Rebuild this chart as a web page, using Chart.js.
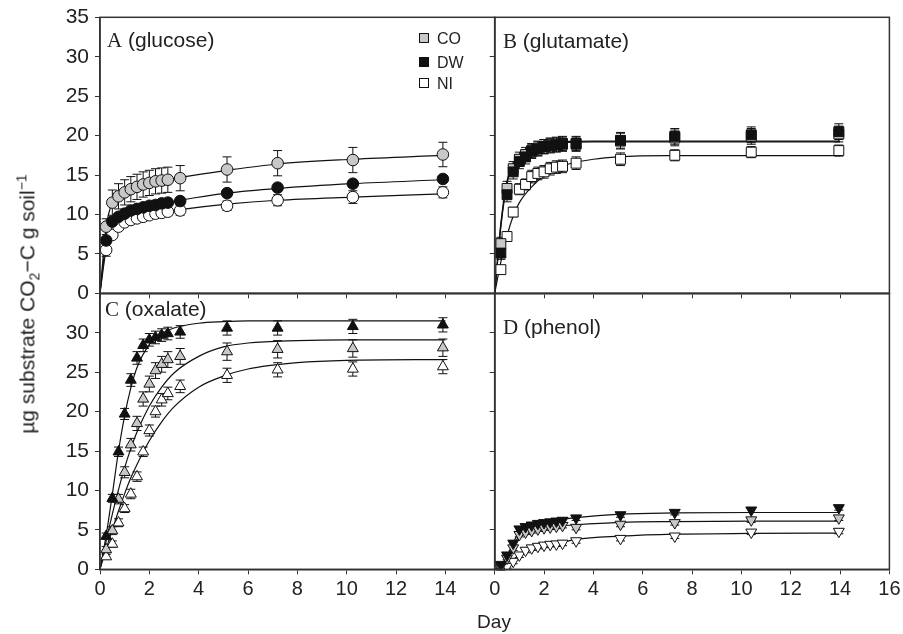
<!DOCTYPE html>
<html>
<head>
<meta charset="utf-8">
<script src="https://cdn.jsdelivr.net/npm/chart.js@4.4.1/dist/chart.umd.min.js"></script>
<style>
  body { margin: 0; background: #fff; }
  #wrap { position: relative; width: 903px; height: 634px; font-family: 'Liberation Sans', Arial, sans-serif; color: #222; }
  #wrap canvas { position: absolute; left: 0; top: 0; }
  .plabel { position: absolute; font-size: 21px; line-height: 21px; white-space: nowrap; }
  .plabel .l { font-family: 'Liberation Serif', 'Times New Roman', serif; }
  .leg { position: absolute; left: 419px; font-size: 16px; line-height: 16px; white-space: nowrap; }
  .leg i { display: inline-block; width: 8px; height: 8px; border: 1px solid #111; margin-right: 8px; vertical-align: 1px; }
  #ytitle { position: absolute; left: 28px; top: 304px; font-size: 21px; white-space: nowrap;
            transform: translate(-50%, -50%) rotate(-90deg); }
  #ytitle sub, #ytitle sup { font-size: 14px; }
  #xtitle { position: absolute; left: 494px; top: 611px; font-size: 19px; transform: translateX(-50%); }
</style>
</head>
<body>
<div id="wrap">
  <canvas id="pA" width="903" height="634"></canvas>
  <canvas id="pB" width="903" height="634"></canvas>
  <canvas id="pC" width="903" height="634"></canvas>
  <canvas id="pD" width="903" height="634"></canvas>
  <div class="plabel" style="left:107px; top:29px"><span class="l">A</span> (glucose)</div>
  <div class="plabel" style="left:503px; top:30px"><span class="l">B</span> (glutamate)</div>
  <div class="plabel" style="left:105px; top:298px"><span class="l">C</span> (oxalate)</div>
  <div class="plabel" style="left:503px; top:316px"><span class="l">D</span> (phenol)</div>
  <div class="leg" style="top:31px"><i style="background:#c8c8c8"></i>CO</div>
  <div class="leg" style="top:55px"><i style="background:#111"></i>DW</div>
  <div class="leg" style="top:76px"><i style="background:#fff"></i>NI</div>
  <div id="ytitle">µg substrate CO<sub>2</sub>−C g soil<sup>−1</sup></div>
  <div id="xtitle">Day</div>
</div>
<script>
// sampling days
const daysLeft = [0.25, 0.5, 0.75, 1, 1.25, 1.5, 1.75, 2, 2.25, 2.5, 2.75, 3.25, 5.15, 7.2, 10.25, 13.9];
const daysRight = [0.25, 0.5, 0.75, 1, 1.25, 1.5, 1.75, 2, 2.25, 2.5, 2.75, 3.3, 5.1, 7.3, 10.4, 13.95];

// A glucose
const glucoseCO = [8.45, 11.5, 12.3, 12.8, 13.2, 13.5, 13.8, 14.0, 14.2, 14.3, 14.4, 14.6, 15.7, 16.5, 16.9, 17.6];
const glucoseDW = [6.7, 9.1, 9.7, 10.1, 10.5, 10.7, 10.9, 11.1, 11.2, 11.4, 11.5, 11.7, 12.7, 13.4, 13.9, 14.5];
const glucoseNI = [5.5, 7.4, 8.45, 9.0, 9.3, 9.5, 9.7, 9.9, 10.1, 10.2, 10.35, 10.5, 11.1, 11.8, 12.2, 12.8];
const glucoseCOErr = [1.0, 1.6, 1.6, 1.6, 1.6, 1.6, 1.6, 1.6, 1.6, 1.6, 1.6, 1.6, 1.6, 1.6, 1.6, 1.55];
const glucoseDWErr = [0.4, 0.3, 0.3, 0.3, 0.3, 0.3, 0.3, 0.3, 0.3, 0.3, 0.3, 0.4, 0.4, 0.4, 0.4, 0.4];
const glucoseNIErr = [0.8, 0.4, 0.4, 0.4, 0.4, 0.4, 0.4, 0.4, 0.4, 0.4, 0.4, 0.6, 0.6, 0.7, 0.8, 0.7];
const fitDaysA = [0, 0.25, 0.5, 0.75, 1, 1.5, 2, 2.75, 3.25, 5.15, 7.2, 10.25, 13.9];
const glucoseFitCO = [0, 8.4, 11.5, 12.3, 12.8, 13.5, 14.0, 14.4, 14.7, 15.6, 16.4, 17.0, 17.5];
const glucoseFitDW = [0, 6.7, 9.1, 9.7, 10.1, 10.7, 11.1, 11.5, 11.8, 12.7, 13.3, 13.9, 14.4];
const glucoseFitNI = [0, 5.5, 7.4, 8.4, 9.0, 9.5, 9.9, 10.35, 10.6, 11.3, 11.8, 12.2, 12.6];

// B glutamate
const glutamateCO = [6.3, 13.3, 15.8, 17.0, 17.6, 18.1, 18.4, 18.6, 18.8, 18.9, 19.0, 19.0, 19.3, 19.7, 19.9, 20.2];
const glutamateDW = [5.1, 12.5, 15.4, 16.7, 17.3, 18.0, 18.3, 18.6, 18.7, 18.8, 18.9, 18.9, 19.4, 19.9, 20.1, 20.5];
const glutamateNI = [3.0, 7.2, 10.3, 13.2, 13.8, 14.8, 15.2, 15.4, 15.8, 16.0, 16.1, 16.5, 17.0, 17.5, 17.9, 18.1];
const glutamateCOErr = [0.8, 0.9, 0.9, 0.9, 0.9, 0.9, 0.9, 0.9, 0.9, 0.9, 0.9, 0.9, 1.0, 1.0, 1.0, 1.0];
const glutamateDWErr = [0.8, 0.9, 0.9, 0.9, 0.9, 0.9, 0.9, 0.9, 0.9, 0.9, 0.9, 0.9, 1.0, 1.0, 1.0, 1.0];
const glutamateNIErr = [0.5, 0.6, 0.6, 0.7, 0.7, 0.8, 0.8, 0.8, 0.8, 0.8, 0.8, 0.8, 0.8, 0.7, 0.7, 0.7];
const fitDaysB = [0, 0.25, 0.5, 0.75, 1, 1.5, 2, 2.5, 3, 4, 5, 7, 10, 14];
const glutamateFitCO = [0, 8.8, 14.2, 16.5, 17.6, 18.6, 19.0, 19.15, 19.25, 19.3, 19.3, 19.3, 19.3, 19.3];
const glutamateFitDW = [0, 8.5, 14.0, 16.3, 17.4, 18.5, 18.9, 19.05, 19.15, 19.2, 19.2, 19.2, 19.2, 19.2];
const glutamateFitNI = [0, 4.0, 7.3, 9.8, 11.5, 13.5, 14.9, 15.8, 16.4, 17.0, 17.3, 17.45, 17.45, 17.45];

// C oxalate
const oxalateCO = [2.5, 4.9, 8.9, 12.3, 15.8, 18.5, 21.6, 23.5, 25.2, 26.0, 26.6, 27.0, 27.6, 27.9, 28.0, 28.1];
const oxalateDW = [4.2, 9.0, 14.9, 19.7, 24.0, 26.8, 28.4, 29.1, 29.4, 29.7, 29.9, 30.1, 30.6, 30.6, 30.8, 31.0];
const oxalateNI = [1.6, 3.2, 5.9, 7.7, 9.55, 11.75, 14.9, 17.6, 20.0, 21.5, 22.3, 23.2, 24.6, 25.3, 25.4, 25.7];
const oxalateCOErr = [0.4, 0.5, 0.6, 0.7, 0.8, 0.9, 0.9, 1.0, 1.0, 1.0, 1.0, 1.0, 1.1, 1.1, 1.1, 1.1];
const oxalateDWErr = [0.4, 0.5, 0.6, 0.7, 0.8, 0.8, 0.8, 0.8, 0.8, 0.8, 0.8, 0.8, 0.9, 0.9, 0.9, 0.9];
const oxalateNIErr = [0.3, 0.4, 0.5, 0.5, 0.6, 0.6, 0.6, 0.7, 0.7, 0.8, 0.8, 0.8, 0.9, 0.9, 0.9, 0.9];
const fitDaysC = [0, 0.25, 0.5, 0.75, 1, 1.25, 1.5, 2, 2.5, 3, 4, 5, 6, 8, 10, 14];
const oxalateFitCO = [0, 3.6, 7.0, 10.1, 12.9, 15.3, 17.4, 20.7, 23.1, 24.9, 27.0, 28.2, 28.7, 29.0, 29.1, 29.1];
const oxalateFitDW = [0, 4.3, 9.5, 15.0, 19.5, 23.0, 25.6, 28.5, 29.9, 30.6, 31.2, 31.4, 31.5, 31.5, 31.5, 31.5];
const oxalateFitNI = [0, 2.6, 5.0, 7.4, 9.6, 11.6, 13.3, 16.3, 18.7, 20.6, 23.1, 24.5, 25.4, 26.2, 26.5, 26.6];

// D phenol
const phenolCO = [0.4, 1.4, 2.7, 4.4, 4.7, 4.9, 5.1, 5.25, 5.35, 5.45, 5.55, 5.3, 5.7, 5.9, 6.25, 6.5];
const phenolDW = [0.6, 1.8, 3.3, 5.1, 5.4, 5.6, 5.8, 5.9, 6.0, 6.1, 6.2, 6.5, 6.9, 7.2, 7.5, 7.8];
const phenolNI = [0.1, 0.35, 1.0, 1.8, 2.4, 2.7, 2.9, 3.05, 3.15, 3.2, 3.3, 3.6, 3.9, 4.2, 4.7, 4.8];
const phenolErr = [0.2, 0.2, 0.3, 0.3, 0.3, 0.3, 0.3, 0.3, 0.3, 0.3, 0.3, 0.3, 0.3, 0.3, 0.3, 0.3];
const fitDaysD = [0, 0.25, 0.5, 0.75, 1, 1.5, 2, 2.5, 3.3, 5.1, 7.3, 10.4, 14];
const phenolFitCO = [0, 0.4, 1.4, 2.8, 4.3, 4.9, 5.25, 5.45, 5.65, 5.95, 6.05, 6.1, 6.1];
const phenolFitDW = [0, 0.5, 1.7, 3.3, 4.9, 5.6, 5.95, 6.2, 6.55, 7.0, 7.15, 7.2, 7.2];
const phenolFitNI = [0, 0.1, 0.4, 1.0, 1.8, 2.7, 3.05, 3.25, 3.8, 4.2, 4.45, 4.55, 4.6];

const xTicks = [0, 2, 4, 6, 8, 10, 12, 14, 16];
const yTicks = [0, 5, 10, 15, 20, 25, 30, 35];

const INK = '#111';
const AXIS = '#333';
const fills = { CO: '#c8c8c8', DW: '#111', NI: '#ffffff' };

const pts = (days, vals) => days.map((d, i) => ({ x: d, y: vals[i] }));

function markers(days, vals, errs, who, style, radius, rotation) {
  return {
    data: pts(days, vals), errors: errs, showLine: false,
    pointStyle: style, pointRadius: radius, pointHoverRadius: radius, rotation: rotation || 0,
    pointBackgroundColor: fills[who], pointBorderColor: INK, pointBorderWidth: 1
  };
}
function curve(days, vals, w) {
  return {
    data: pts(days, vals), showLine: true, pointRadius: 0, borderColor: INK,
    borderWidth: w || 1.2, cubicInterpolationMode: 'monotone', fill: false
  };
}

const errorBars = {
  id: 'errorBars',
  beforeDatasetsDraw(chart) {
    const { ctx, scales: { x, y } } = chart;
    ctx.save();
    ctx.strokeStyle = INK;
    ctx.lineWidth = 1;
    chart.data.datasets.forEach(ds => {
      if (!ds.errors) return;
      ds.data.forEach((p, j) => {
        const e = ds.errors[j];
        const px = x.getPixelForValue(p.x);
        const t = y.getPixelForValue(p.y + e);
        const b = y.getPixelForValue(p.y - e);
        ctx.beginPath();
        ctx.moveTo(px, t); ctx.lineTo(px, b);
        ctx.moveTo(px - 4.5, t); ctx.lineTo(px + 4.5, t);
        ctx.moveTo(px - 4.5, b); ctx.lineTo(px + 4.5, b);
        ctx.stroke();
      });
    });
    ctx.restore();
  }
};

const frame = {
  id: 'frame',
  afterDraw(chart) {
    const { ctx, chartArea: a } = chart;
    ctx.save();
    ctx.strokeStyle = AXIS;
    ctx.lineWidth = 1.5;
    ctx.strokeRect(a.left, a.top, a.right - a.left, a.bottom - a.top);
    ctx.restore();
  }
};

// panel edges in page pixels
const colLeft = 100, colMid = 494.7, colRight = 889.4;
const rowTop = 17.3, rowMid = 293.3, rowBottom = 569.3;

function panel(id, datasets, p) {
  const yW = p.yLabels ? 100 : 6;
  const xH = p.xLabels ? 40 : 6;
  new Chart(document.getElementById(id), {
    type: 'scatter',
    data: { datasets },
    options: {
      responsive: false,
      animation: false,
      events: [],
      layout: {
        padding: {
          left: p.left - yW,
          right: 903 - p.right,
          top: p.top,
          bottom: 634 - p.bottom - xH
        }
      },
      plugins: { legend: { display: false }, tooltip: { enabled: false } },
      scales: {
        x: {
          type: 'linear', min: 0, max: 16,
          afterBuildTicks: s => { s.ticks = xTicks.map(v => ({ value: v })); },
          afterFit: s => { s.height = xH; s.paddingLeft = 0; s.paddingRight = 0; },
          grid: { display: true, drawOnChartArea: false, drawTicks: true, tickLength: 5, color: AXIS, lineWidth: 1 },
          border: { display: true, color: AXIS, width: 1.5 },
          ticks: {
            display: p.xLabels, padding: 3, color: '#222', maxRotation: 0, autoSkip: false,
            font: { family: "'Liberation Sans Narrow', 'Liberation Sans', sans-serif", size: 20 },
            callback: v => (p.hide16 && v === 16) ? '' : v
          }
        },
        y: {
          type: 'linear', min: 0, max: 35,
          afterBuildTicks: s => { s.ticks = yTicks.map(v => ({ value: v })); },
          afterFit: s => { s.width = yW; s.paddingTop = 0; s.paddingBottom = 0; },
          grid: { display: true, drawOnChartArea: false, drawTicks: true, tickLength: 5, color: AXIS, lineWidth: 1 },
          border: { display: true, color: AXIS, width: 1.5 },
          ticks: {
            display: p.yLabels, padding: 6, color: '#222', autoSkip: false,
            font: { family: "'Liberation Sans', Arial, sans-serif", size: 21 },
            callback: v => (p.hide35 && v === 35) ? '' : v
          }
        }
      }
    },
    plugins: [errorBars, frame]
  });
}

panel('pA', [
  markers(daysLeft, glucoseDW, glucoseDWErr, 'DW', 'circle', 5.8),
  markers(daysLeft, glucoseCO, glucoseCOErr, 'CO', 'circle', 5.8),
  markers(daysLeft, glucoseNI, glucoseNIErr, 'NI', 'circle', 5.8),
  curve(fitDaysA, glucoseFitCO), curve(fitDaysA, glucoseFitDW), curve(fitDaysA, glucoseFitNI)
], { left: colLeft, right: colMid, top: rowTop, bottom: rowMid, yLabels: true, xLabels: false });

panel('pB', [
  markers(daysRight, glutamateDW, glutamateDWErr, 'DW', 'rect', 7),
  markers(daysRight, glutamateCO, glutamateCOErr, 'CO', 'rect', 7),
  markers(daysRight, glutamateNI, glutamateNIErr, 'NI', 'rect', 7),
  curve(fitDaysB, glutamateFitCO, 1.4), curve(fitDaysB, glutamateFitDW, 1.4), curve(fitDaysB, glutamateFitNI)
], { left: colMid, right: colRight, top: rowTop, bottom: rowMid, yLabels: false, xLabels: false });

panel('pC', [
  markers(daysLeft, oxalateDW, oxalateDWErr, 'DW', 'triangle', 6.3),
  markers(daysLeft, oxalateCO, oxalateCOErr, 'CO', 'triangle', 6.3),
  markers(daysLeft, oxalateNI, oxalateNIErr, 'NI', 'triangle', 6.3),
  curve(fitDaysC, oxalateFitCO), curve(fitDaysC, oxalateFitDW), curve(fitDaysC, oxalateFitNI)
], { left: colLeft, right: colMid, top: rowMid, bottom: rowBottom, yLabels: true, xLabels: true, hide16: true, hide35: true });

panel('pD', [
  markers(daysRight, phenolDW, phenolErr, 'DW', 'triangle', 6.3, 180),
  markers(daysRight, phenolCO, phenolErr, 'CO', 'triangle', 6.3, 180),
  markers(daysRight, phenolNI, phenolErr, 'NI', 'triangle', 6.3, 180),
  curve(fitDaysD, phenolFitCO), curve(fitDaysD, phenolFitDW), curve(fitDaysD, phenolFitNI)
], { left: colMid, right: colRight, top: rowMid, bottom: rowBottom, yLabels: false, xLabels: true });
</script>
</body>
</html>
